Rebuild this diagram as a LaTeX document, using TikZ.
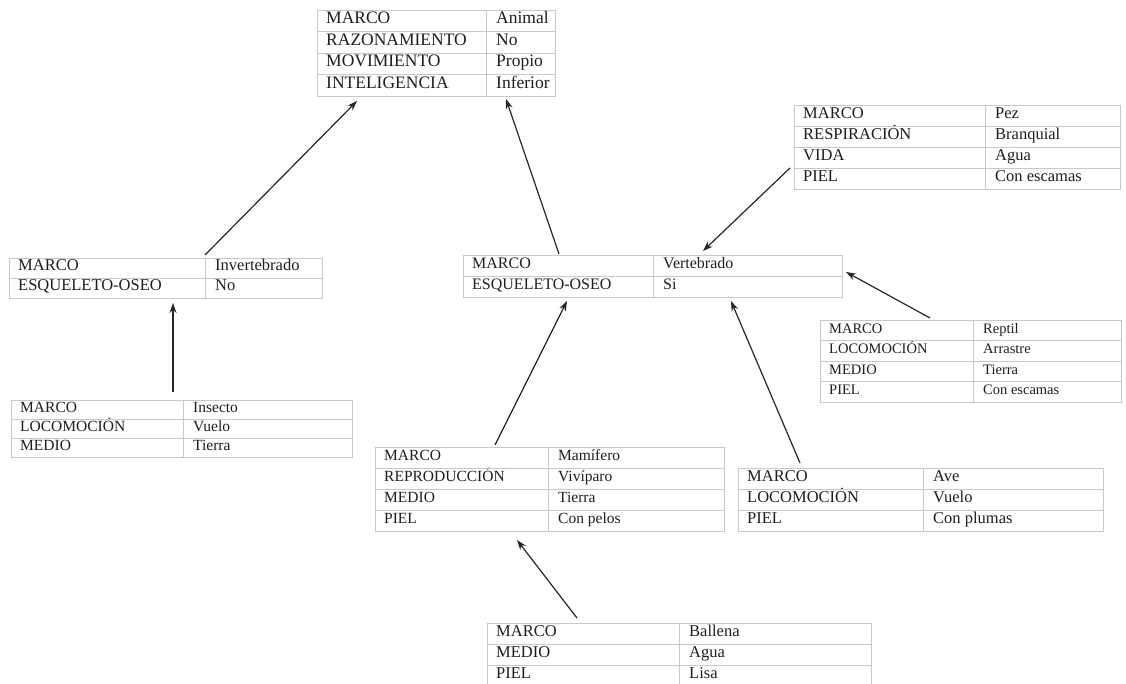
\documentclass[tikz,border=0pt]{standalone}
\usepackage{fontspec}
\setmainfont{Liberation Serif}
\usetikzlibrary{arrows.meta}
\definecolor{tline}{RGB}{200,200,200}
\definecolor{ttext}{RGB}{30,30,30}
\tikzset{
  tborder/.style={draw=tline, line width=0.9pt},
  cell/.style={inner sep=0pt, text=ttext, text height=1.5ex, text depth=.25ex},
  arr/.style={draw=black!85, line width=1.2pt, -{Stealth[length=10pt,width=7pt]}}
}
% #1 name, #2 left, #3 top, #4 split, #5 right, #6 row height, #7 rows, #8 font size, #9 list
\newcommand\frametable[9]{%
  \node[tborder, inner sep=0pt, anchor=north west, minimum width={(#5-#2)*1pt}, minimum height={(#7*#6)*1pt}] (#1) at (#2,#3) {};
  \draw[tborder] (#4,#3) -- ({#4},{#3+#7*#6});
  \foreach \a/\b [count=\i] in {#9} {
    \node[cell, anchor=west, font=\fontsize{#8}{#8}\selectfont] (#1-k\i) at ({#2+9},{#3+(\i-0.5)*#6}) {\a};
    \node[cell, anchor=west, font=\fontsize{#8}{#8}\selectfont] (#1-v\i) at ({#4+10},{#3+(\i-0.5)*#6}) {\b};
    \ifnum\i>1 \draw[tborder] (#2,{#3+(\i-1)*#6}) -- (#5,{#3+(\i-1)*#6}); \fi
  }%
}
\begin{document}
\begin{tikzpicture}[x=1pt,y=-1pt]
\useasboundingbox[fill=white] (0,0) rectangle (1126,684);

\frametable{anim}{317}{10}{486}{555}{21.5}{4}{17.5}{MARCO/Animal, RAZONAMIENTO/No, MOVIMIENTO/Propio, INTELIGENCIA/Inferior}
\frametable{inv}{9}{258}{205}{322}{20}{2}{16.5}{MARCO/Invertebrado, ESQUELETO-OSEO/No}
\frametable{vert}{463}{255}{653}{842}{21}{2}{16}{MARCO/Vertebrado, ESQUELETO-OSEO/Si}
\frametable{pez}{794}{105}{985}{1120}{21}{4}{16.5}{MARCO/Pez, RESPIRACIÓN/Branquial, VIDA/Agua, PIEL/Con escamas}
\frametable{rep}{820}{320}{973}{1121}{20.5}{4}{14.5}{MARCO/Reptil, LOCOMOCIÓN/Arrastre, MEDIO/Tierra, PIEL/Con escamas}
\frametable{ins}{11}{400}{183}{352}{19}{3}{15.5}{MARCO/Insecto, LOCOMOCIÓN/Vuelo, MEDIO/Tierra}
\frametable{mam}{375}{447}{548}{724}{21}{4}{15.5}{MARCO/Mamífero, REPRODUCCIÓN/Vivíparo, MEDIO/Tierra, PIEL/Con pelos}
\frametable{ave}{738}{468}{923}{1103}{21}{3}{16.5}{MARCO/Ave, LOCOMOCIÓN/Vuelo, PIEL/Con plumas}
\frametable{bal}{487}{623}{679}{871}{21}{3}{16.5}{MARCO/Ballena, MEDIO/Agua, PIEL/Lisa}

% connector ends
\coordinate (inv-out) at (205,255);
\coordinate (anim-in1) at (357,101);
\coordinate (vert-out) at (559,254);
\coordinate (anim-in2) at (506,99);
\coordinate (pez-out) at (790,168);
\coordinate (vert-in1) at (703,251);
\coordinate (rep-out) at (930,318);
\coordinate (vert-in2) at (846,272);
\coordinate (ins-out) at (173,392);
\coordinate (inv-in) at (173,303);
\coordinate (mam-out) at (495,445);
\coordinate (vert-in3) at (567,301);
\coordinate (ave-out) at (800,463);
\coordinate (vert-in4) at (731,301);
\coordinate (bal-out) at (577,618);
\coordinate (mam-in) at (517,540);

\draw[arr] (inv-out) -- (anim-in1);
\draw[arr] (vert-out) -- (anim-in2);
\draw[arr] (pez-out) -- (vert-in1);
\draw[arr] (rep-out) -- (vert-in2);
\draw[arr] (ins-out) -- (inv-in);
\draw[arr] (mam-out) -- (vert-in3);
\draw[arr] (ave-out) -- (vert-in4);
\draw[arr] (bal-out) -- (mam-in);
\end{tikzpicture}
\end{document}
